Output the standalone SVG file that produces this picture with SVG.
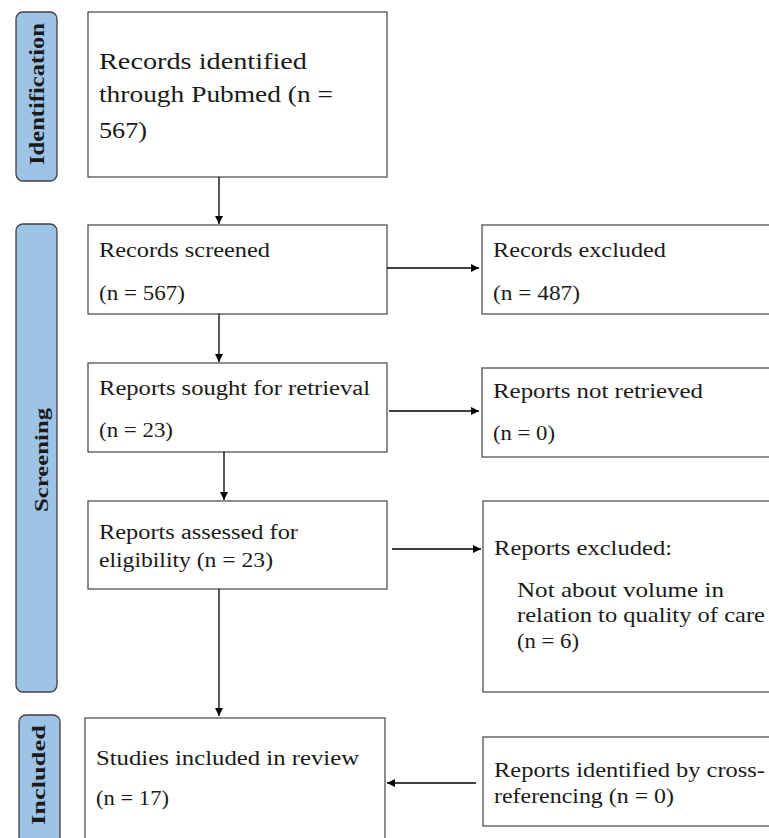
<svg xmlns="http://www.w3.org/2000/svg" width="769" height="838" viewBox="0 0 769 838">
<style>
.box{fill:#fff;stroke:#505050;stroke-width:1.3}
.lab{fill:#9dc3e6;stroke:#404040;stroke-width:1.3}
.t{font-family:"Liberation Serif","DejaVu Serif",serif;fill:#1a1a1a;font-size:20px}
.lt{font-family:"Liberation Serif","DejaVu Serif",serif;font-weight:bold;fill:#1a1a1a;font-size:20px}
.c{stroke:#000;stroke-width:1.3;fill:none;marker-end:url(#ah)}
</style>
<defs>
<marker id="ah" viewBox="0 0 10 10" refX="10" refY="5" markerWidth="8" markerHeight="8" markerUnits="userSpaceOnUse" orient="auto">
<path d="M0,0 L10,5 L0,10 z" fill="#000"/>
</marker>
</defs>
<g id="label-identification">
<rect class="lab" x="16" y="12" width="41" height="169" rx="7"/>
<text class="lt" style="font-size:21px" transform="translate(44,94) rotate(-90)" text-anchor="middle" textLength="142" lengthAdjust="spacingAndGlyphs">Identification</text>
</g>
<g id="label-screening">
<rect class="lab" x="16" y="224" width="41" height="468" rx="7"/>
<text class="lt" style="font-size:19px" transform="translate(48,460) rotate(-90)" text-anchor="middle" textLength="104" lengthAdjust="spacingAndGlyphs">Screening</text>
</g>
<g id="label-included">
<rect class="lab" x="19" y="715" width="41" height="140" rx="7"/>
<text class="lt" style="font-size:19px" transform="translate(45,775) rotate(-90)" text-anchor="middle" textLength="100" lengthAdjust="spacingAndGlyphs">Included</text>
</g>
<g id="n1">
<rect class="box" x="88" y="12" width="299" height="165"/>
<text class="t" style="font-size:23px" x="99" y="69" textLength="208" lengthAdjust="spacingAndGlyphs">Records identified</text>
<text class="t" style="font-size:23px" x="99" y="102" textLength="234" lengthAdjust="spacingAndGlyphs">through Pubmed (n =</text>
<text class="t" style="font-size:23px" x="99" y="138" textLength="48" lengthAdjust="spacingAndGlyphs">567)</text>
</g>
<g id="n2">
<rect class="box" x="88" y="225" width="299" height="89"/>
<text class="t" x="99" y="257" textLength="171" lengthAdjust="spacingAndGlyphs">Records screened</text>
<text class="t" x="99" y="300" textLength="86" lengthAdjust="spacingAndGlyphs">(n = 567)</text>
</g>
<g id="n3">
<rect class="box" x="88" y="363" width="299" height="89"/>
<text class="t" x="99" y="395" textLength="271" lengthAdjust="spacingAndGlyphs">Reports sought for retrieval</text>
<text class="t" x="99" y="437" textLength="74" lengthAdjust="spacingAndGlyphs">(n = 23)</text>
</g>
<g id="n4">
<rect class="box" x="88" y="501" width="299" height="88"/>
<text class="t" x="99" y="539" textLength="199" lengthAdjust="spacingAndGlyphs">Reports assessed for</text>
<text class="t" x="99" y="567" textLength="174" lengthAdjust="spacingAndGlyphs">eligibility  (n = 23)</text>
</g>
<g id="n5">
<rect class="box" x="85" y="718" width="300" height="140"/>
<text class="t" x="96" y="765" textLength="263" lengthAdjust="spacingAndGlyphs">Studies included in review</text>
<text class="t" x="96" y="805" textLength="73" lengthAdjust="spacingAndGlyphs">(n = 17)</text>
</g>
<g id="r1">
<rect class="box" x="482" y="225" width="300" height="89"/>
<text class="t" x="493" y="257" textLength="173" lengthAdjust="spacingAndGlyphs">Records excluded</text>
<text class="t" x="493" y="300" textLength="87" lengthAdjust="spacingAndGlyphs">(n = 487)</text>
</g>
<g id="r2">
<rect class="box" x="482" y="368" width="300" height="89"/>
<text class="t" x="493" y="398" textLength="210" lengthAdjust="spacingAndGlyphs">Reports not retrieved</text>
<text class="t" x="493" y="440" textLength="62" lengthAdjust="spacingAndGlyphs">(n = 0)</text>
</g>
<g id="r3">
<rect class="box" x="483" y="501" width="300" height="191"/>
<text class="t" style="font-size:22px" x="494" y="555" textLength="178" lengthAdjust="spacingAndGlyphs">Reports excluded:</text>
<text class="t" style="font-size:22px" x="517" y="597" textLength="207" lengthAdjust="spacingAndGlyphs">Not about volume in</text>
<text class="t" style="font-size:22px" x="517" y="622" textLength="248" lengthAdjust="spacingAndGlyphs">relation to quality of care</text>
<text class="t" style="font-size:22px" x="517" y="648" textLength="62" lengthAdjust="spacingAndGlyphs">(n = 6)</text>
</g>
<g id="r4">
<rect class="box" x="483" y="737" width="300" height="89"/>
<text class="t" style="font-size:21px" x="494" y="777" textLength="271" lengthAdjust="spacingAndGlyphs">Reports identified  by cross-</text>
<text class="t" style="font-size:21px" x="494" y="803" textLength="180" lengthAdjust="spacingAndGlyphs">referencing (n = 0)</text>
</g>
<g id="connectors">
<line class="c" x1="219" y1="177" x2="219" y2="224"/>
<line class="c" x1="219" y1="314" x2="219" y2="362"/>
<line class="c" x1="224" y1="452" x2="224" y2="500"/>
<line class="c" x1="219" y1="589" x2="219" y2="716"/>
<line class="c" x1="387" y1="268" x2="479" y2="268"/>
<line class="c" x1="389" y1="411" x2="479" y2="411"/>
<line class="c" x1="392" y1="549" x2="481" y2="549"/>
<line class="c" x1="476" y1="783" x2="387" y2="783"/>
</g>
</svg>
